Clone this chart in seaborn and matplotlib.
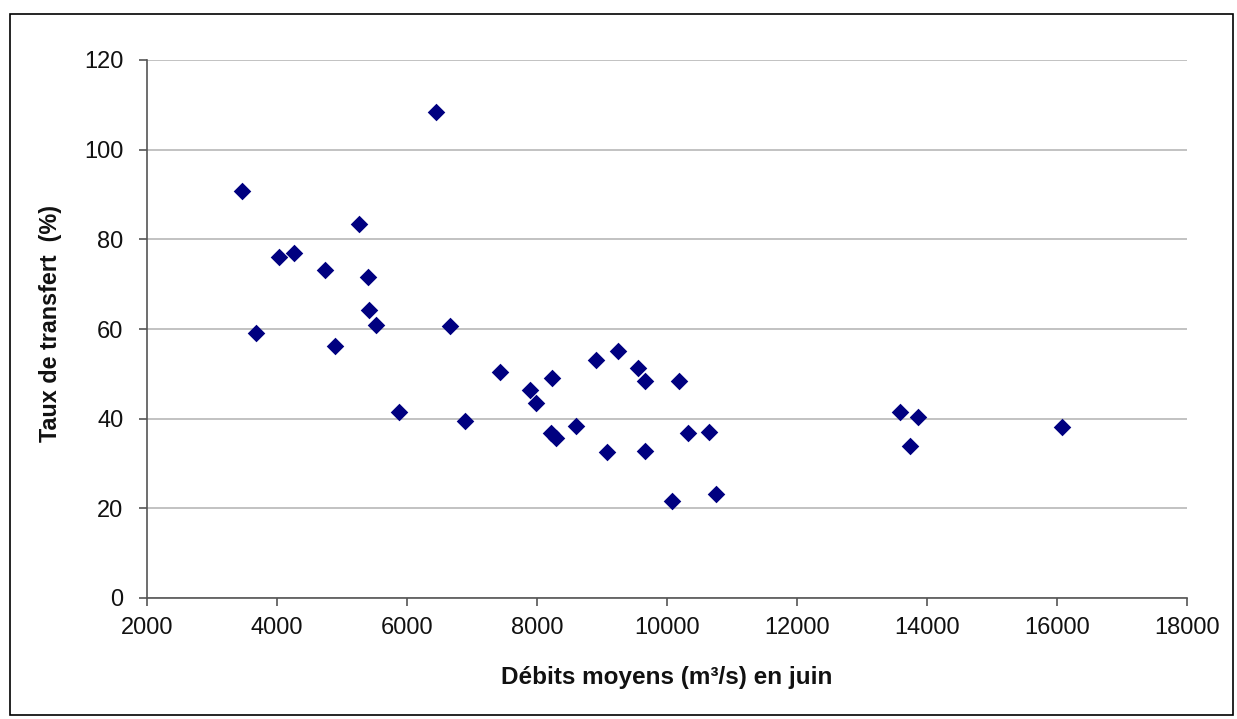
import matplotlib
matplotlib.use("Agg")
import matplotlib.pyplot as plt
import seaborn as sns
import pandas as pd
from matplotlib.patches import Rectangle

debits = [3462, 3677, 4031, 4262, 4738, 4892, 5262, 5400, 5415, 5523, 5877, 6446,
          6662, 6892, 7431, 7892, 7985, 8231, 8215, 8292, 8600, 8908, 9077, 9246,
          9554, 9662, 9662, 10185, 10077, 10323, 10646, 10754, 13585, 13862, 13738, 16077]
taux = [90.8, 59.2, 76.1, 77.0, 73.2, 56.1, 83.5, 71.7, 64.3, 60.8, 41.4, 108.4,
        60.6, 39.4, 50.5, 46.5, 43.4, 49.0, 36.7, 35.6, 38.3, 53.0, 32.5, 55.0,
        51.2, 48.5, 32.7, 48.3, 21.6, 36.7, 37.0, 23.2, 41.4, 40.3, 33.8, 38.1]
x_ticks = [2000, 4000, 6000, 8000, 10000, 12000, 14000, 16000, 18000]
y_ticks = [0, 20, 40, 60, 80, 100, 120]

df = pd.DataFrame({"debit": debits, "taux": taux})

sns.set_theme(style="white")
plt.rcParams['font.family'] = ['Liberation Sans', 'DejaVu Sans']

W, H = 1237, 719
fig = plt.figure(figsize=(W / 100, H / 100), dpi=100)
ax = fig.add_axes([147 / W, 1 - 598 / H, (1187 - 147) / W, (598 - 60) / H])

sns.scatterplot(data=df, x="debit", y="taux", marker="D", color="#000080",
                s=80, edgecolor="#000080", linewidth=0, ax=ax, zorder=3)

ax.set_xlim(2000, 18000)
ax.set_ylim(0, 120)
ax.set_xticks(x_ticks)
ax.set_yticks(y_ticks)
ax.set_xticklabels([str(v) for v in x_ticks], fontsize=17, color="#111111")
ax.set_yticklabels([str(v) for v in y_ticks], fontsize=17, color="#111111")
ax.yaxis.grid(True, color="#bdbdbd", linewidth=1.3)
ax.xaxis.grid(False)
ax.set_axisbelow(True)
for side in ["top", "right"]:
    ax.spines[side].set_visible(False)
for side in ["left", "bottom"]:
    ax.spines[side].set_color("#555555")
    ax.spines[side].set_linewidth(1.2)
ax.tick_params(axis="both", direction="out", length=6, width=1.2, color="#555555",
               left=True, bottom=True)
ax.tick_params(axis="y", pad=11)
ax.tick_params(axis="x", pad=8)

ax.set_xlabel("Débits moyens (m³/s) en juin", fontsize=17.5, fontweight="bold",
              labelpad=19, color="#111111")
ax.set_ylabel("Taux de transfert  (%)", fontsize=16.8, fontweight="bold",
              color="#111111")
ax.yaxis.set_label_coords((62 - 147) / (1187 - 147), (598 - 323) / (598 - 60))

fig.patches.append(Rectangle((10 / W, 1 - 715 / H), (1233 - 10) / W, (715 - 14) / H,
                             transform=fig.transFigure, fill=False,
                             edgecolor="black", linewidth=1.2))

fig.savefig("out.png", dpi=100, facecolor="white")
